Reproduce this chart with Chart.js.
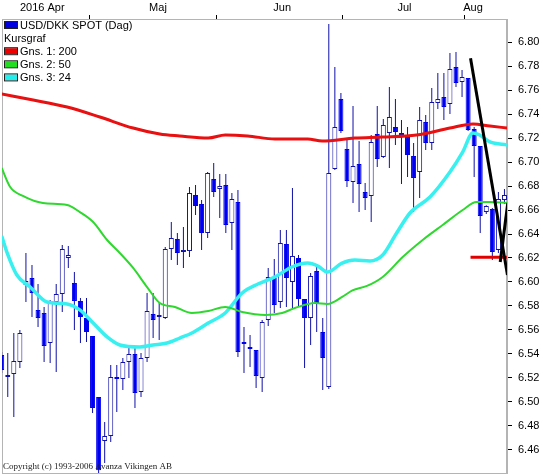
<!DOCTYPE html>
<html>
<head>
<meta charset="utf-8">
<script src="https://cdn.jsdelivr.net/npm/chart.js@4.4.1/dist/chart.umd.min.js"></script>
<style>
  html, body { margin: 0; padding: 0; background: #fff; overflow: hidden; }
  canvas { display: block; }
</style>
</head>
<body>
<canvas id="kursChart" width="543" height="475"></canvas>
<script>
// daily candles, index 0 = mid April 2016
var openP  = [6.5392, 6.5208, 6.5233, 6.5333, 6.5975, 6.6033, 6.5767, 6.5742, 6.5492, 6.5833,
              6.5900, 6.6200, 6.5992, 6.5842, 6.5700, 6.5550, 6.5042, 6.4675, 6.4717, 6.5208,
              6.5192, 6.5333, 6.5400, 6.5083, 6.5367, 6.5733, 6.5708, 6.5700, 6.6275, 6.6358,
              6.6250, 6.6258, 6.6725, 6.6650, 6.6408, 6.6858, 6.6775, 6.6808, 6.6492, 6.6667,
              6.5500, 6.5458, 6.5433, 6.5200, 6.5683, 6.6033, 6.5833, 6.6317, 6.6000, 6.6200,
              6.5858, 6.5700, 6.6092, 6.5583, 6.5125, 6.6942, 6.7525, 6.7108, 6.6833, 6.6983,
              6.6750, 6.6717, 6.7233, 6.7042, 6.7242, 6.7292, 6.7225, 6.7208, 6.7050, 6.6917,
              6.7333, 6.7158, 6.7492, 6.7542, 6.7483, 6.7792, 6.7667, 6.7700, 6.7275, 6.7133,
              6.6583, 6.6608, 6.6267, 6.6683];
var highP  = [6.5417, 6.5408, 6.5575, 6.5600, 6.6242, 6.6142, 6.5983, 6.5792, 6.5850, 6.5983,
              6.6308, 6.6300, 6.6083, 6.5867, 6.5867, 6.5550, 6.5042, 6.4833, 6.5308, 6.5308,
              6.5367, 6.5450, 6.5450, 6.5408, 6.5908, 6.5908, 6.5833, 6.6292, 6.6500, 6.6408,
              6.6458, 6.6792, 6.6808, 6.6683, 6.6917, 6.6992, 6.6900, 6.6900, 6.6742, 6.6767,
              6.5625, 6.5558, 6.5433, 6.5683, 6.6117, 6.6192, 6.6433, 6.6433, 6.6783, 6.6225,
              6.5858, 6.6075, 6.6125, 6.5700, 6.8150, 6.7792, 6.7575, 6.7183, 6.7467, 6.7175,
              6.6825, 6.7225, 6.7467, 6.7358, 6.7625, 6.7525, 6.7350, 6.7292, 6.7158, 6.7458,
              6.7392, 6.7617, 6.7742, 6.7742, 6.7908, 6.7917, 6.7767, 6.7700, 6.7292, 6.7133,
              6.6640, 6.6617, 6.6750, 6.6775];
var lowP   = [6.5242, 6.5042, 6.4875, 6.5283, 6.5833, 6.5708, 6.5625, 6.5333, 6.5325, 6.5250,
              6.5750, 6.6117, 6.5600, 6.5492, 6.5500, 6.4908, 6.4400, 6.4492, 6.4667, 6.4917,
              6.5100, 6.5200, 6.4950, 6.5042, 6.5333, 6.5533, 6.5517, 6.5692, 6.6183, 6.6142,
              6.6117, 6.6208, 6.6558, 6.6267, 6.6367, 6.6708, 6.6533, 6.6408, 6.6267, 6.5375,
              6.5242, 6.5292, 6.5117, 6.5083, 6.5633, 6.5742, 6.5783, 6.5792, 6.5783, 6.5792,
              6.5283, 6.5475, 6.5583, 6.5100, 6.5108, 6.6933, 6.7242, 6.6792, 6.6658, 6.6583,
              6.6600, 6.6500, 6.6958, 6.7033, 6.6950, 6.7142, 6.6817, 6.6875, 6.6583, 6.6700,
              6.7100, 6.7100, 6.7442, 6.7350, 6.7400, 6.7625, 6.7542, 6.7258, 6.6875, 6.6408,
              6.6567, 6.6183, 6.6242, 6.6650];
var closeP = [6.5267, 6.5225, 6.5342, 6.5575, 6.6008, 6.5908, 6.5700, 6.5467, 6.5833, 6.5900,
              6.6275, 6.6225, 6.5842, 6.5708, 6.5583, 6.4950, 6.4430, 6.4717, 6.5208, 6.5192,
              6.5333, 6.5400, 6.5075, 6.5367, 6.5758, 6.5683, 6.5725, 6.6275, 6.6367, 6.6242,
              6.6267, 6.6742, 6.6633, 6.6408, 6.6908, 6.6750, 6.6800, 6.6475, 6.6692, 6.5417,
              6.5483, 6.5442, 6.5217, 6.5667, 6.6042, 6.5808, 6.6325, 6.6033, 6.6217, 6.5858,
              6.5700, 6.6050, 6.5825, 6.5367, 6.6908, 6.7292, 6.7258, 6.6842, 6.6967, 6.6817,
              6.6700, 6.7167, 6.7025, 6.7308, 6.7375, 6.7250, 6.7242, 6.7058, 6.6867, 6.7350,
              6.7158, 6.7500, 6.7525, 6.7458, 6.7775, 6.7658, 6.7708, 6.7267, 6.7133, 6.6550,
              6.6633, 6.6250, 6.6692, 6.6725];

// moving averages (x = candle index)
var ma200X = [0, 5.2, 10.8, 16.2, 21.7, 26.1, 29.4, 34.1, 36.9, 40.6, 45.1, 50.5, 52.9, 58.3, 62.9, 68.5, 74.0, 77.8, 80.6, 83.5];
var ma200Y = [6.7567, 6.7517, 6.7458, 6.7375, 6.7283, 6.7233, 6.7217, 6.7200, 6.7225, 6.7217, 6.7192, 6.7192, 6.7175, 6.7200, 6.7208, 6.7225, 6.7283, 6.7317, 6.7300, 6.7283];
var ma50X  = [0, 1.4, 3.5, 6.8, 10.8, 12.9, 15.1, 17.4, 19.5, 21.7, 24.0, 26.1, 28.6, 31.4, 34.1, 36.9, 39.7, 43.5, 46.3, 48.4, 51.7, 53.8, 56.2, 57.9, 60.3, 62.9, 66.2, 69.5, 72.8, 76.1, 78.4, 80.6, 83.5];
var ma50Y  = [6.6950, 6.6792, 6.6717, 6.6658, 6.6642, 6.6583, 6.6500, 6.6350, 6.6242, 6.6117, 6.5958, 6.5825, 6.5792, 6.5742, 6.5758, 6.5792, 6.5750, 6.5725, 6.5742, 6.5783, 6.5825, 6.5817, 6.5875, 6.5930, 6.5967, 6.6042, 6.6208, 6.6350, 6.6475, 6.6600, 6.6667, 6.6667, 6.6658];
var ma24X  = [0, 0.9, 2.5, 4.7, 7.5, 10.8, 12.9, 15.1, 17.4, 19.5, 22.8, 25.0, 27.3, 29.4, 31.4, 34.1, 36.9, 39.7, 42.3, 45.1, 47.9, 50.5, 52.2, 53.8, 56.2, 58.3, 60.8, 62.9, 65.2, 67.4, 70.7, 74.0, 76.1, 77.8, 78.9, 80.6, 83.5];
var ma24Y  = [6.6383, 6.6242, 6.6058, 6.5958, 6.5833, 6.5817, 6.5767, 6.5658, 6.5542, 6.5475, 6.5458, 6.5475, 6.5492, 6.5533, 6.5575, 6.5658, 6.5742, 6.5908, 6.5983, 6.6042, 6.6125, 6.6158, 6.6133, 6.6083, 6.6158, 6.6183, 6.6175, 6.6225, 6.6408, 6.6575, 6.6708, 6.6917, 6.7083, 6.7242, 6.7225, 6.7167, 6.7142];

// drawn trend lines
var trendAX = [77.4, 83.5],  trendAY = [6.7864, 6.6058];
var trendBX = [82.3, 83.55], trendBY = [6.6167, 6.6658];
var supportX = [77.4, 83.4], supportY = [6.6206, 6.6206];

var monthEdges = [14.57, 35.5, 56.3, 76.4];
var monthLabels = ['2016 Apr', 'Maj', 'Jun', 'Jul', 'Aug'];
var monthLabelPos = [6.7, 25.8, 46.3, 66.5, 77.8];
var yTicks = [6.46, 6.48, 6.50, 6.52, 6.54, 6.56, 6.58, 6.60, 6.62, 6.64, 6.66, 6.68, 6.70, 6.72, 6.74, 6.76, 6.78, 6.80];

var legendItems = [
    { text: 'USD/DKK SPOT (Dag)', color: '#0000e0' },
    { text: 'Kursgraf', color: null },
    { text: 'Gns. 1: 200', color: '#ee0000' },
    { text: 'Gns. 2: 50', color: '#22dd22' },
    { text: 'Gns. 3: 24', color: '#22eeee' }
];

var NAVY = '#1010a8';
var BLUE = '#0000f0';
var FONT = "'Liberation Sans', Arial, sans-serif";

function pts(xs, ys) {
    return xs.map(function (x, i) { return { x: x, y: ys[i] }; });
}

var bodies = openP.map(function (o, i) { return { x: i, y: [o, closeP[i]] }; });
var wicks = lowP.map(function (l, i) { return { x: i, y: [l, highP[i]] }; });

var frame = {
    id: 'frame',
    beforeDatasetsDraw: function (chart) {
        var a = chart.chartArea, ctx = chart.ctx;
        ctx.save();
        ctx.strokeStyle = '#b4b4b4';
        ctx.lineWidth = 1;
        ctx.strokeRect(Math.round(a.left) + 0.5, Math.round(a.top) + 0.5,
                       Math.round(a.right - a.left) - 1, Math.round(a.bottom - a.top));
        ctx.restore();
    },
    afterDatasetsDraw: function (chart) {
        var a = chart.chartArea, ctx = chart.ctx;
        ctx.save();
        ctx.font = '11px ' + FONT;
        ctx.textBaseline = 'middle';
        legendItems.forEach(function (it, i) {
            var y = a.top + 6 + i * 13.1;
            if (it.color) {
                ctx.fillStyle = it.color;
                ctx.fillRect(a.left + 2, y - 3, 14, 6);
                ctx.strokeStyle = '#202020';
                ctx.strokeRect(a.left + 2.5, y - 3.5, 13, 7);
                ctx.fillStyle = '#000';
                ctx.fillText(it.text, a.left + 18, y + 0.5);
            } else {
                ctx.fillStyle = '#000';
                ctx.fillText(it.text, a.left + 2, y + 0.5);
            }
        });
        ctx.font = "9px 'Liberation Serif', serif";
        ctx.fillStyle = '#222';
        ctx.textBaseline = 'alphabetic';
        ctx.fillText('Copyright (c) 1993-2006 Avanza Vikingen AB', a.left + 1, a.bottom - 4);
        ctx.restore();
    }
};

var ctx = document.getElementById('kursChart').getContext('2d');
new Chart(ctx, {
    type: 'bar',
    data: {
        datasets: [
            {
                type: 'line', data: pts(trendAX, trendAY), borderColor: '#000', borderWidth: 3,
                pointRadius: 0, order: 0
            },
            {
                type: 'line', data: pts(trendBX, trendBY), borderColor: '#000', borderWidth: 3,
                pointRadius: 0, order: 0
            },
            {
                type: 'line', data: pts(supportX, supportY), borderColor: '#e00000', borderWidth: 3,
                pointRadius: 0, order: 0
            },
            {
                type: 'line', label: 'Gns. 1: 200', data: pts(ma200X, ma200Y), borderColor: '#e81010',
                borderWidth: 3, pointRadius: 0, cubicInterpolationMode: 'monotone', order: 1
            },
            {
                type: 'line', label: 'Gns. 2: 50', data: pts(ma50X, ma50Y), borderColor: '#2ed82e',
                borderWidth: 2, pointRadius: 0, cubicInterpolationMode: 'monotone', order: 1
            },
            {
                type: 'line', label: 'Gns. 3: 24', data: pts(ma24X, ma24Y), borderColor: '#38f0f0',
                borderWidth: 3.5, pointRadius: 0, cubicInterpolationMode: 'monotone', order: 1
            },
            {
                label: 'USD/DKK SPOT (Dag)', data: bodies, grouped: false,
                categoryPercentage: 1, barPercentage: 0.83, maxBarThickness: 5,
                borderWidth: 1, borderSkipped: false, borderColor: function (c) {
                    var i = c.dataIndex;
                    return closeP[i] >= openP[i] ? NAVY : BLUE;
                },
                backgroundColor: function (c) {
                    var i = c.dataIndex;
                    return closeP[i] >= openP[i] ? '#ffffff' : BLUE;
                },
                order: 2
            },
            {
                label: 'wick', data: wicks, grouped: false,
                categoryPercentage: 1, barPercentage: 0.2, maxBarThickness: 1,
                borderWidth: 0, backgroundColor: NAVY, order: 3
            }
        ]
    },
    options: {
        responsive: false,
        devicePixelRatio: 1,
        animation: false,
        layout: { autoPadding: false, padding: { left: 2, right: 0, top: 0, bottom: 2 } },
        plugins: { legend: { display: false }, tooltip: { enabled: false } },
        scales: {
            x: {
                type: 'linear', position: 'top', min: 0.05, max: 83.42, offset: false,
                afterBuildTicks: function (s) {
                    s.ticks = monthEdges.concat(monthLabelPos).sort(function (a, b) { return a - b; })
                        .map(function (v) { return { value: v }; });
                },
                afterFit: function (s) {
                    s.height = 19;
                    s.paddingLeft = 0; s.paddingRight = 0;
                },
                ticks: {
                    autoSkip: false, maxRotation: 0, padding: 0, color: '#000',
                    font: { family: FONT, size: 11 },
                    callback: function (v) {
                        var k = monthLabelPos.indexOf(v);
                        return k >= 0 ? monthLabels[k] : '';
                    }
                },
                grid: {
                    offset: false, drawOnChartArea: false, drawTicks: true, tickLength: 4,
                    tickColor: function (c) {
                        return c.tick && monthEdges.indexOf(c.tick.value) >= 0 ? '#000' : 'rgba(0,0,0,0)';
                    }
                },
                border: { display: true, color: '#b4b4b4' }
            },
            y: {
                position: 'right', min: 6.4408, max: 6.8192,
                afterBuildTicks: function (s) {
                    s.ticks = yTicks.map(function (v) { return { value: v }; });
                },
                afterFit: function (s) {
                    s.width = 36;
                    s.paddingTop = 0; s.paddingBottom = 0;
                },
                ticks: {
                    padding: 6, color: '#000', font: { family: FONT, size: 11 },
                    callback: function (v) { return v.toFixed(2); }
                },
                grid: { offset: false, drawOnChartArea: false, drawTicks: true, tickLength: 5, tickColor: '#000' },
                border: { display: true, color: '#b4b4b4' }
            }
        }
    },
    plugins: [frame]
});
</script>
</body>
</html>
